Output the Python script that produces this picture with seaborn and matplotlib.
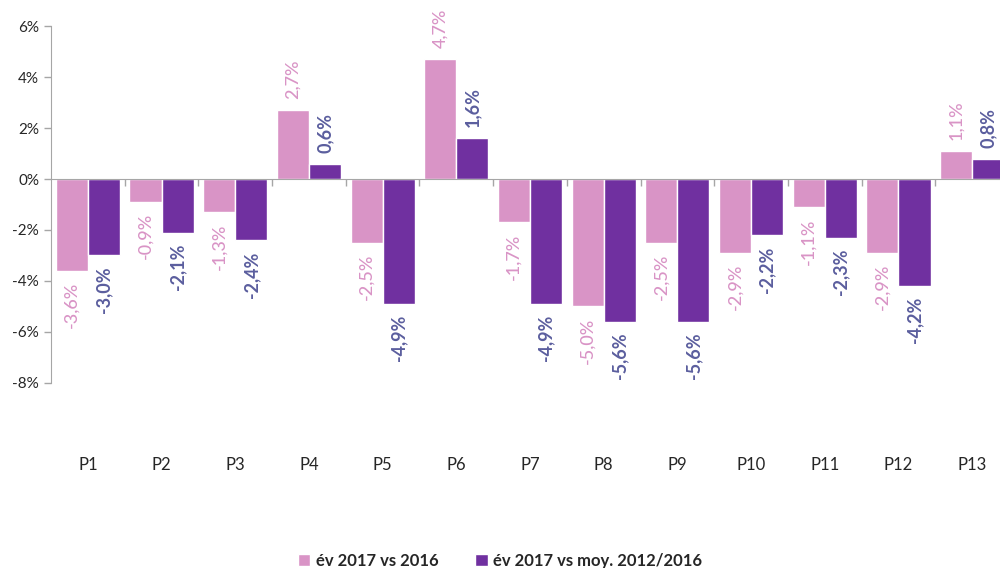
import pandas as pd
import matplotlib.pyplot as plt
import seaborn as sns
from matplotlib.ticker import FixedLocator

periods = ['P1', 'P2', 'P3', 'P4', 'P5', 'P6', 'P7', 'P8', 'P9', 'P10', 'P11', 'P12', 'P13']
vs_2016 = [-3.6, -0.9, -1.3, 2.7, -2.5, 4.7, -1.7, -5.0, -2.5, -2.9, -1.1, -2.9, 1.1]
vs_moy = [-3.0, -2.1, -2.4, 0.6, -4.9, 1.6, -4.9, -5.6, -5.6, -2.2, -2.3, -4.2, 0.8]
series = ['év 2017 vs 2016', 'év 2017 vs moy. 2012/2016']

df = pd.DataFrame({
    'periode': periods * 2,
    'valeur': vs_2016 + vs_moy,
    'serie': [series[0]] * len(periods) + [series[1]] * len(periods),
})

sns.set_style('white')
plt.rcParams['font.family'] = ['Lato', 'DejaVu Sans']

pink = '#D994C6'
purple = '#7030A0'
label_colors = ['#D994C6', '#5B5E9E']

fig = plt.figure(figsize=(10, 5.68), dpi=100)
ax = fig.add_axes([0.051, 0.326, 0.958, 0.628])

sns.barplot(data=df, x='periode', y='valeur', hue='serie', hue_order=series,
            palette=[pink, purple], saturation=1, width=0.87, ax=ax, legend=True)

# data labels, rotated like the original
for cont, vals, col, wt in zip(ax.containers, [vs_2016, vs_moy], label_colors, ['medium', 'bold']):
    labs = [f"{v:.1f}%".replace('.', ',') for v in vals]
    ax.bar_label(cont, labels=labs, rotation=90, padding=8, color=col,
                 fontsize=13, fontweight=wt)

ax.set_ylim(-8, 6)
ax.set_xlim(-0.5, len(periods) - 0.5)
ax.set_yticks(range(-8, 7, 2))
ax.set_yticklabels([f"{t}%" for t in range(-8, 7, 2)], fontsize=11)
ax.set_xlabel('')
ax.set_ylabel('')

# x axis sits on zero, category labels pushed far below
for s in ['top', 'right']:
    ax.spines[s].set_visible(False)
ax.spines['bottom'].set_position(('data', 0))
ax.spines['bottom'].set_color('#A6A6A6')
ax.spines['left'].set_color('#A6A6A6')
ax.xaxis.set_minor_locator(FixedLocator([i + 0.5 for i in range(len(periods))]))
ax.tick_params(axis='x', which='major', length=0, pad=200, labelsize=12)
ax.tick_params(axis='x', which='minor', bottom=True, length=5, width=1, color='#A6A6A6', direction='out')
ax.tick_params(axis='y', left=True, length=5, width=1, color='#A6A6A6', direction='out')

ax.get_legend().remove()
handles = ax.containers
leg = fig.legend(handles=[c.patches[0] for c in handles], labels=series,
                 loc='lower center', bbox_to_anchor=(0.5, -0.028), ncol=2, frameon=False,
                 prop={'weight': 'bold', 'size': 12}, handlelength=0.75, handleheight=0.75,
                 handletextpad=0.35, columnspacing=2.2)

plt.savefig('out.png', dpi=100)
